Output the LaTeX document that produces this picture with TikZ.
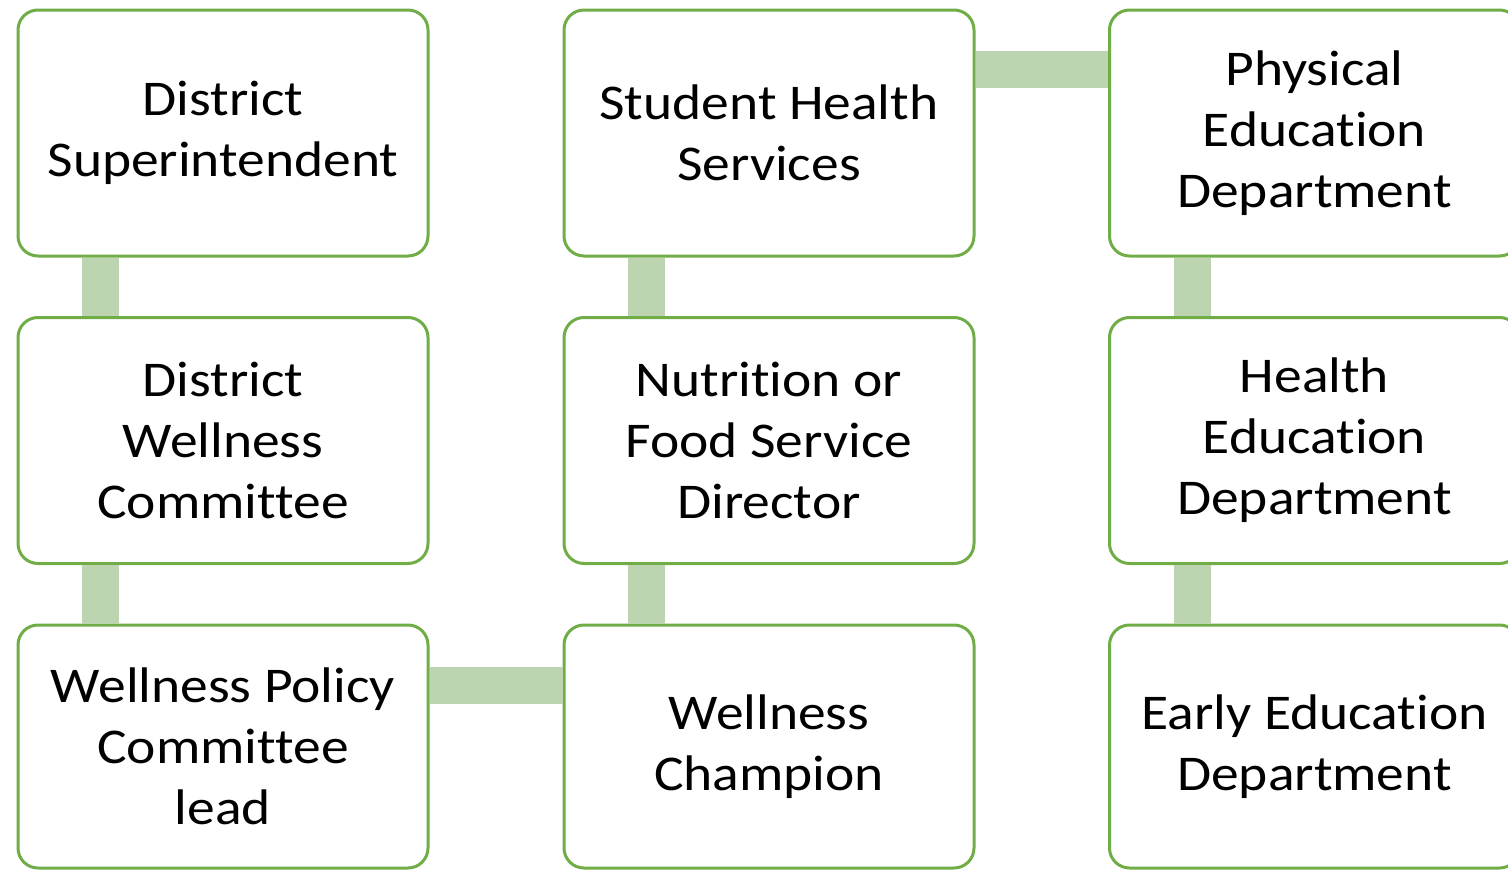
\documentclass[tikz,border=0pt]{standalone}
\usepackage{fontspec}
\setmainfont{Carlito}[FakeStretch=1.11, Ligatures={NoCommon}]
\definecolor{boxgreen}{RGB}{112,173,71}
\definecolor{bargreen}{RGB}{189,212,177}
\tikzset{
  orgbox/.style={draw=boxgreen, line width=3pt, fill=white, rounded corners=20pt,
    minimum width=410pt, minimum height=246pt, align=center, inner sep=0pt,
    font=\fontsize{50}{61}\selectfont},
  lowbox/.style={orgbox, minimum height=243pt},
  bar/.style={draw=bargreen, line width=37pt, line cap=butt}
}
\begin{document}
\begin{tikzpicture}[x=1pt,y=-1pt]
\useasboundingbox (0,0) rectangle (1508,870);
\node[orgbox] (sup) at (223,133) {District\\Superintendent};
\node[orgbox] (dwc) at (223,440.5) {District\\Wellness\\Committee};
\node[lowbox] (wpc) at (223,746.5) {Wellness Policy\\Committee\\lead};
\node[orgbox] (shs) at (769,133) {Student Health\\Services};
\node[orgbox] (nfs) at (769,440.5) {Nutrition or\\Food Service\\Director};
\node[lowbox] (wch) at (769,746.5) {Wellness\\Champion};
\node[orgbox] (ped) at (1314.5,133) {Physical\\Education\\Department};
\node[orgbox] (hed) at (1314.5,440.5) {Health\\Education\\Department};
\node[lowbox] (eed) at (1314.5,746.5) {Early Education\\Department};
\draw[bar] ([xshift=-122.5pt]sup.south) -- ([xshift=-122.5pt]dwc.north);
\draw[bar] ([xshift=-122.5pt]dwc.south) -- ([xshift=-122.5pt]wpc.north);
\draw[bar] ([xshift=-122.5pt]shs.south) -- ([xshift=-122.5pt]nfs.north);
\draw[bar] ([xshift=-122.5pt]nfs.south) -- ([xshift=-122.5pt]wch.north);
\draw[bar] ([xshift=-122pt]ped.south) -- ([xshift=-122pt]hed.north);
\draw[bar] ([xshift=-122pt]hed.south) -- ([xshift=-122pt]eed.north);
\draw[bar] ([yshift=63.5pt]shs.east) -- ([yshift=63.5pt]ped.west);
\draw[bar] ([yshift=61.5pt]wpc.east) -- ([yshift=61.5pt]wch.west);
\end{tikzpicture}
\end{document}
